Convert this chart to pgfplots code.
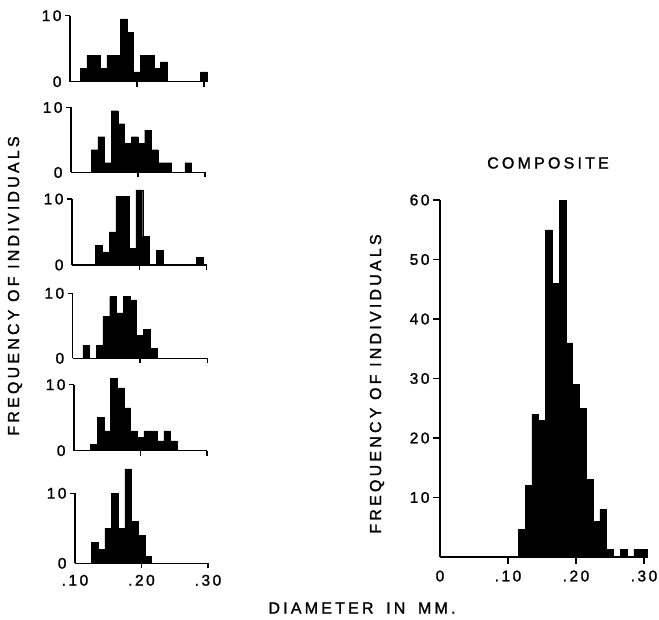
\documentclass[border=0pt]{standalone}
\usepackage{fontspec}
\setmainfont{Liberation Sans}
\newfontfamily\lbl[LetterSpace=20, FakeBold=1.4]{Liberation Sans}
\newfontfamily\tck[LetterSpace=16, FakeBold=1.4]{Liberation Sans}
\usepackage{pgfplots}
\pgfplotsset{compat=1.18}

\pgfplotsset{
  base/.style={
    ybar, bar width=0.01, clip=false,
    scale only axis, anchor=south west,
    axis x line=bottom, axis y line=left,
    axis line style={-, line width=1.5pt},
    tick style={line width=1.5pt, black},
    tick align=outside, major tick length=5pt,
    tick label style={font=\tck\fontsize{15.5}{16}\selectfont},
    xticklabel style={yshift=-3pt},
    /pgf/number format/assume math mode=true,
  },
  small/.style={
    base, xmin=0.1, xmax=0.3, ymin=0, ymax=10,
    xtick={0.2,0.3}, xticklabels={},
    extra x ticks={0.1}, extra x tick labels={},
    extra x tick style={major tick length=0pt, xticklabel style={yshift=-5pt}},
    ytick={10}, extra y ticks={0},
    extra y tick style={major tick length=0pt, yticklabel style={xshift=-5pt}},
  },
  bars/.style={fill=black, draw=black, line width=0.4pt},
}

\begin{document}
\begin{tikzpicture}
\path[use as bounding box] (0,0) rectangle (659pt,619pt);

% panel 1
\begin{axis}[small, at={(70pt,537.3pt)}, width=134pt, height=66pt]
\addplot[bars] coordinates {(0.12,2) (0.13,4) (0.14,4) (0.15,2) (0.16,4) (0.17,4)
  (0.18,9.5) (0.19,7.5) (0.20,1.5) (0.21,4) (0.22,4) (0.23,2) (0.24,3) (0.30,1.5)};
\end{axis}

% panel 2
\begin{axis}[small, at={(71pt,446.5pt)}, width=134pt, height=65pt]
\addplot[bars] coordinates {(0.135,3.5) (0.145,5.5) (0.155,1.5) (0.165,9.5) (0.175,7.5)
  (0.185,4.5) (0.195,5.5) (0.205,4.5) (0.215,6.5) (0.225,3.5) (0.235,1.5) (0.245,1.5) (0.275,1.5)};
\end{axis}

% panel 3
\begin{axis}[small, at={(72pt,354pt)}, width=134.7pt, height=66pt]
\addplot[bars] coordinates {(0.14,3) (0.15,2) (0.16,5) (0.17,10.4) (0.18,10.4)
  (0.19,2.5) (0.20,11.4) (0.21,4.3) (0.23,2.2) (0.29,1.2)};
\end{axis}

% panel 4
\begin{axis}[small, at={(72.7pt,260.7pt)}, width=134.6pt, height=65pt]
\addplot[bars] coordinates {(0.12,2) (0.14,2) (0.15,6.5) (0.16,9.5) (0.17,7)
  (0.18,9.5) (0.19,9) (0.20,3.5) (0.21,4.5) (0.22,1.5)};
\end{axis}

% panel 5
\begin{axis}[small, at={(74pt,168.3pt)}, width=133pt, height=66pt]
\addplot[bars] coordinates {(0.13,1) (0.14,5) (0.15,3) (0.16,11) (0.17,9.5) (0.18,6.5)
  (0.19,3) (0.20,2) (0.21,3) (0.22,3) (0.23,1.5) (0.24,3) (0.25,1.5)};
\end{axis}

% panel 6
\begin{axis}[small, at={(75pt,55.7pt)}, width=133pt, height=70pt,
  xticklabels={.20,.30}, extra x tick labels={.10}]
\addplot[bars] coordinates {(0.13,3) (0.14,2) (0.15,5) (0.16,10) (0.17,5)
  (0.18,13.5) (0.19,6) (0.20,4) (0.21,1)};
\end{axis}

% composite
\begin{axis}[base, at={(440pt,62pt)}, width=204pt, height=357pt,
  xmin=0, xmax=0.3, ymin=0, ymax=60, major tick length=7pt,
  xtick={0.1,0.2,0.3}, xticklabels={.10,.20,.30},
  extra x ticks={0}, extra x tick labels={0},
  extra x tick style={major tick length=0pt, xticklabel style={yshift=-7pt}},
  ytick={10,20,...,60}]
\addplot[bars] coordinates {(0.12,4.6) (0.13,12) (0.14,24) (0.15,23) (0.16,55) (0.17,46)
  (0.18,60) (0.19,36) (0.20,29) (0.21,25) (0.22,13) (0.23,6) (0.24,8)
  (0.25,1.3) (0.27,1.3) (0.29,1.3) (0.30,1.3)};
\end{axis}

\node[rotate=90, font=\lbl\fontsize{16}{16}\selectfont] at (15pt,333pt) {FREQUENCY OF INDIVIDUALS};
\node[rotate=90, font=\lbl\fontsize{16}{16}\selectfont] at (377pt,235pt) {FREQUENCY OF INDIVIDUALS};
\node[font=\lbl\fontsize{16}{16}\selectfont] at (548pt,456pt) {COMPOSITE};
\node[font=\lbl\fontsize{16}{16}\selectfont] at (362pt,11pt) {DIAMETER\hspace{5pt} IN\hspace{5pt} MM.};
\end{tikzpicture}
\end{document}
